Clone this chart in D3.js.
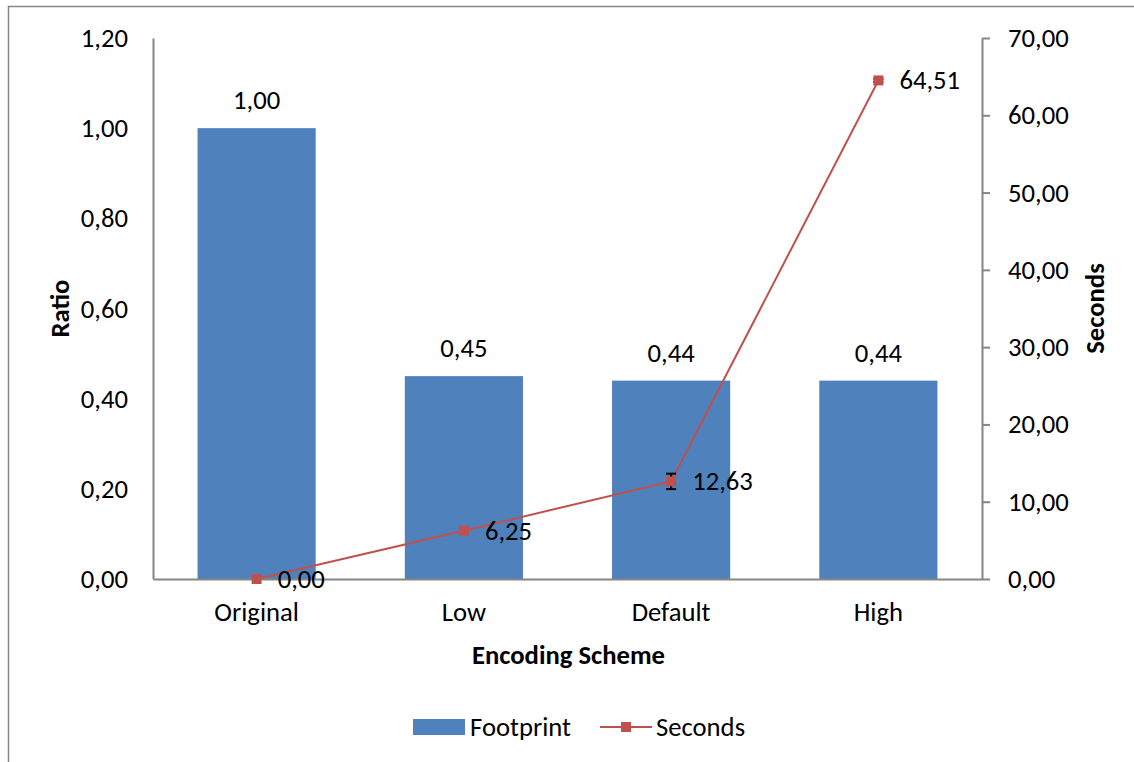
<!DOCTYPE html>
<html>
<head>
<meta charset="utf-8">
<script src="https://cdn.jsdelivr.net/npm/d3@7"></script>
<style>
  html, body { margin: 0; padding: 0; background: #fff; }
  svg { display: block; }
  svg text { font-family: Carlito, Lato, "Liberation Sans", sans-serif; }
</style>
</head>
<body>
<svg id="chart" width="1134" height="762"></svg>
<script>
// Encoding schemes and their measurements
const categories = ["Original", "Low", "Default", "High"];
const footprint = [1.00, 0.45, 0.44, 0.44];
const seconds = [0.00, 6.25, 12.63, 64.51];
const secondsError = [0.0, 0.0, 1.0, 0.2];
const ratioTicks = [0, 0.2, 0.4, 0.6, 0.8, 1.0, 1.2];
const secondsTicks = [0, 10, 20, 30, 40, 50, 60, 70];

const BAR = "#4F81BD", LINE = "#C0504D", AXIS = "#868686";
const FS = 26.67;
const fmt = d => d.toFixed(2).replace(".", ",");

const svg = d3.select("#chart");

// Outer chart frame (extends past the canvas on the right and bottom)
svg.append("path")
  .attr("d", "M8.5,780 V6.5 H1140")
  .attr("fill", "none").attr("stroke", AXIS).attr("stroke-width", 1.5);

const plot = { left: 153, right: 982, top: 38, bottom: 579 };

const x = d3.scaleBand().domain(categories)
  .range([plot.left, plot.right]).paddingInner(0.43).paddingOuter(0.215);
const yL = d3.scaleLinear().domain([0, 1.2]).range([plot.bottom, plot.top]);
const yR = d3.scaleLinear().domain([0, 70]).range([plot.bottom, plot.top]);

// Bars
svg.append("g").selectAll("rect").data(categories).join("rect")
  .attr("x", d => x(d))
  .attr("width", x.bandwidth())
  .attr("y", (d, i) => yL(footprint[i]))
  .attr("height", (d, i) => yL(0) - yL(footprint[i]))
  .attr("fill", BAR);

// Bar value labels
svg.append("g").selectAll("text").data(categories).join("text")
  .attr("x", d => x(d) + x.bandwidth() / 2)
  .attr("y", (d, i) => yL(footprint[i]) - 19)
  .attr("text-anchor", "middle")
  .attr("font-size", FS).attr("fill", "#000")
  .text((d, i) => fmt(footprint[i]));

function styleAxis(g) {
  g.attr("font-family", null).attr("font-size", null);
  g.select(".domain").attr("stroke", AXIS).attr("stroke-width", 2);
  g.selectAll(".tick line").attr("stroke", AXIS).attr("stroke-width", 2);
  g.selectAll("text").attr("font-size", FS).attr("fill", "#000");
}

// Left axis
svg.append("g").attr("transform", `translate(${plot.left},0)`)
  .call(d3.axisLeft(yL).tickValues(ratioTicks).tickSize(0).tickPadding(25).tickFormat(fmt))
  .call(styleAxis);

// Right axis
svg.append("g").attr("transform", `translate(${plot.right},0)`)
  .call(d3.axisRight(yR).tickValues(secondsTicks).tickSizeOuter(0).tickSizeInner(8).tickPadding(18).tickFormat(fmt))
  .call(styleAxis);

// Category axis
svg.append("g").attr("transform", `translate(0,${plot.bottom})`)
  .call(d3.axisBottom(x).tickSize(0).tickPadding(23))
  .call(styleAxis);

// Axis titles
const mid = (plot.top + plot.bottom) / 2;
svg.append("text").attr("transform", `translate(69,${mid}) rotate(-90)`)
  .attr("text-anchor", "middle").attr("font-size", FS).attr("font-weight", "bold").text("Ratio");
svg.append("text").attr("transform", `translate(1104,${mid}) rotate(-90)`)
  .attr("text-anchor", "middle").attr("font-size", FS).attr("font-weight", "bold").text("Seconds");
svg.append("text").attr("x", (plot.left + plot.right) / 2 + 1).attr("y", 664)
  .attr("text-anchor", "middle").attr("font-size", FS).attr("font-weight", "bold").text("Encoding Scheme");

// Seconds line
const cx = d => x(d) + x.bandwidth() / 2;
svg.append("path")
  .datum(categories)
  .attr("fill", "none").attr("stroke", LINE).attr("stroke-width", 2)
  .attr("d", d3.line().x(cx).y((d, i) => yR(seconds[i])));

// Error bars
svg.append("g").selectAll("g").data(categories).join("g")
  .filter((d, i) => secondsError[i] > 0)
  .each(function (d) {
    const i = categories.indexOf(d);
    const g = d3.select(this);
    const y1 = yR(seconds[i] + secondsError[i]), y2 = yR(seconds[i] - secondsError[i]);
    g.append("line").attr("x1", cx(d)).attr("x2", cx(d)).attr("y1", y1).attr("y2", y2)
      .attr("stroke", "#000").attr("stroke-width", 2);
    [y1, y2].forEach(yy => g.append("line")
      .attr("x1", cx(d) - 5).attr("x2", cx(d) + 5).attr("y1", yy).attr("y2", yy)
      .attr("stroke", "#000").attr("stroke-width", 2));
  });

// Markers
svg.append("g").selectAll("rect").data(categories).join("rect")
  .attr("x", d => cx(d) - 5).attr("y", (d, i) => yR(seconds[i]) - 5)
  .attr("width", 10).attr("height", 10).attr("fill", LINE);

// Line value labels
svg.append("g").selectAll("text").data(categories).join("text")
  .attr("x", d => cx(d) + 21)
  .attr("y", (d, i) => yR(seconds[i]) + 9)
  .attr("font-size", FS).attr("fill", "#000")
  .text((d, i) => fmt(seconds[i]));

// Legend
const lg = svg.append("g");
lg.append("rect").attr("x", 413).attr("y", 719).attr("width", 52).attr("height", 16).attr("fill", BAR);
lg.append("text").attr("x", 470).attr("y", 736).attr("font-size", FS).text("Footprint");
lg.append("line").attr("x1", 600).attr("x2", 652).attr("y1", 727).attr("y2", 727)
  .attr("stroke", LINE).attr("stroke-width", 2);
lg.append("rect").attr("x", 621).attr("y", 722).attr("width", 10).attr("height", 10).attr("fill", LINE);
lg.append("text").attr("x", 656).attr("y", 736).attr("font-size", FS).text("Seconds");
</script>
</body>
</html>
